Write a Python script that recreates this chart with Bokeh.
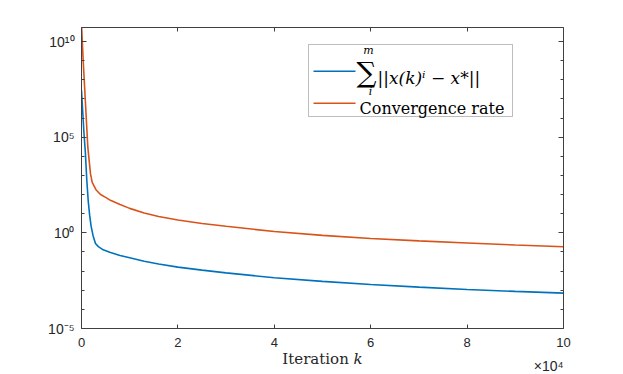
from bokeh.plotting import figure
from bokeh.models import (Range1d, FixedTicker, LinearAxis, LogAxis,
                          CustomJSTickFormatter, Label, BoxAnnotation, Title)
from bokeh.embed import file_html
from bokeh.resources import INLINE

# ---- data ----
err_iter = [0, 250, 500, 800, 1100, 1400, 1700, 2000, 2400, 2900, 3500, 4500,
            6000, 8000, 10000, 13000, 16000, 20000, 25000, 30000, 40000,
            50000, 60000, 70000, 80000, 90000, 100000]
err_vals = [2.8e7, 2.2e6, 1.8e5, 1.6e4, 560, 45, 7.9, 2.2, 0.71, 0.28, 0.19, 0.129,
            0.093, 0.066, 0.050, 0.033, 0.0234, 0.0162, 0.0112, 0.0081, 0.0045,
            0.0029, 0.0020, 0.00145, 0.0011, 0.00087, 0.00071]

rate_iter = [0, 350, 830, 1310, 1870, 2220, 3000, 3940, 5000, 6000, 8000, 10000,
             13000, 16000, 20000, 25000, 30000, 40000, 50000, 60000, 70000,
             80000, 90000, 100000]
rate_vals = [7.9e10, 1.0e9, 5.6e6, 3.0e4, 1.2e3, 430, 180, 100, 71, 50, 30, 19,
             11, 7.2, 4.7, 3.1, 2.2, 1.17, 0.74, 0.51, 0.38, 0.295, 0.23, 0.186]

x_ticks = [0, 20000, 40000, 60000, 80000, 100000]
y_major = [1e-5, 1e0, 1e5, 1e10]
y_minor = [1e-4, 1e-3, 1e-2, 1e-1, 1e1, 1e2, 1e3, 1e4, 1e6, 1e7, 1e8, 1e9]

BLUE = "#0072BD"
ORANGE = "#D95319"
AX = "#404040"
TXT = "#262626"
SERIF = "DejaVu Serif"

p = figure(width=623, height=374, y_axis_type="log",
           x_range=Range1d(0, 1e5), y_range=Range1d(1e-5, 5.4e10),
           output_backend="svg", toolbar_location=None,
           min_border_left=81, min_border_right=60,
           min_border_top=27, min_border_bottom=46)
p.outline_line_color = None
p.xgrid.visible = False
p.ygrid.visible = False

p.line(err_iter, err_vals, line_color=BLUE, line_width=1.6)
p.line(rate_iter, rate_vals, line_color=ORANGE, line_width=1.6)

xfmt = CustomJSTickFormatter(code="return (tick/1e4).toFixed(0);")
yfmt = CustomJSTickFormatter(code="""
const e = Math.round(Math.log10(tick));
const sup = {'0':'\u2070','1':'\u00b9','2':'\u00b2','3':'\u00b3','4':'\u2074',
             '5':'\u2075','6':'\u2076','7':'\u2077','8':'\u2078','9':'\u2079','-':'\u207b'};
return '10' + String(e).split('').map(c => sup[c]).join('');
""")
blank = CustomJSTickFormatter(code="return '';")

def style(ax, major_len, minor_len):
    ax.axis_line_color = AX
    ax.axis_line_width = 1
    ax.major_tick_line_color = AX
    ax.minor_tick_line_color = AX
    ax.major_tick_in = major_len
    ax.major_tick_out = 0
    ax.minor_tick_in = minor_len
    ax.minor_tick_out = 0
    ax.major_label_text_font = "Liberation Sans"
    ax.major_label_text_font_size = "14px"
    ax.major_label_text_color = TXT

xax = p.xaxis[0]
xax.ticker = FixedTicker(ticks=x_ticks)
xax.formatter = xfmt
style(xax, 4, 0)
xax.major_label_text_font_size = "13px"
xax.major_label_standoff = 9
xax.axis_label = "Iteration \U0001D458"
xax.axis_label_text_font = SERIF
xax.axis_label_text_font_style = "normal"
xax.axis_label_text_font_size = "15px"
xax.axis_label_text_color = TXT
xax.axis_label_standoff = 0

yax = p.yaxis[0]
yax.ticker = FixedTicker(ticks=y_major, minor_ticks=y_minor)
yax.formatter = yfmt
style(yax, 5, 3)
yax.major_label_standoff = 7

top = LinearAxis(ticker=FixedTicker(ticks=x_ticks), formatter=blank)
style(top, 4, 0)
top.major_label_text_font_size = "1px"
top.major_label_standoff = 0
p.add_layout(top, "above")

right = LogAxis(ticker=FixedTicker(ticks=y_major, minor_ticks=y_minor), formatter=blank)
style(right, 5, 3)
right.major_label_text_font_size = "1px"
right.major_label_standoff = 0
p.add_layout(right, "right")

# multiplier of the x axis
p.add_layout(Title(text="\u00d710\u2074", align="right", vertical_align="top",
                   standoff=-26,
                   text_font="Liberation Sans", text_font_size="14px",
                   text_font_style="normal", text_color=TXT), "below")

# ---- legend (hand-built) ----
def sbox(l, r, t, b, **kw):
    return BoxAnnotation(left=l, right=r, top=t, bottom=b,
                         left_units="screen", right_units="screen",
                         top_units="screen", bottom_units="screen", **kw)

p.add_layout(sbox(227, 431, 284, 212, fill_color="white", fill_alpha=1,
                  line_color=TXT, line_width=1))
p.add_layout(sbox(232, 274, 258, 256.5, fill_color=BLUE, fill_alpha=1, line_color=None))
p.add_layout(sbox(232, 274, 226, 224.5, fill_color=ORANGE, fill_alpha=1, line_color=None))

def slabel(x, y, text, size, style="normal", align="left", baseline="alphabetic"):
    p.add_layout(Label(x=x, y=y, x_units="screen", y_units="screen", text=text,
                       text_font=SERIF, text_font_style=style,
                       text_font_size=size, text_color="black",
                       text_align=align, text_baseline=baseline))

slabel(285, 256, "\u2211", "28px", align="center", baseline="middle")
slabel(287, 278, "m", "11px", style="italic", align="center", baseline="middle")
slabel(289, 237, "i", "11px", style="italic", align="center", baseline="middle")
slabel(296, 251, "||x(k)\u2071  \u2212  x*||", "17px", style="italic")
slabel(278, 220, "Convergence rate", "16px")

open("out.html", "w").write(file_html(p, INLINE))
